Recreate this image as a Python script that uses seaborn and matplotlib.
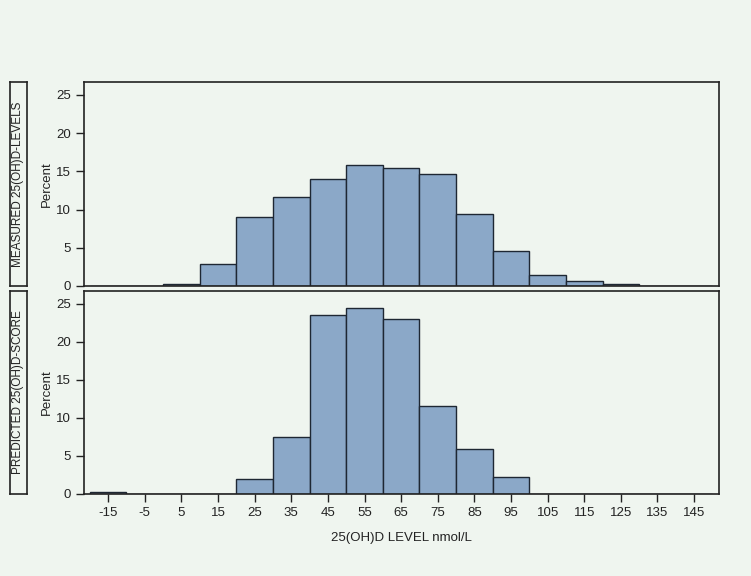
import pandas as pd
import matplotlib
matplotlib.use("Agg")
import matplotlib.pyplot as plt
import seaborn as sns

# Percent per 10 nmol/L bin (bin left edges)
measured_left = [0, 10, 20, 30, 40, 50, 60, 70, 80, 90, 100, 110, 120]
measured_pct = [0.26, 2.9, 9.0, 11.6, 14.0, 15.9, 15.4, 14.7, 9.4, 4.6, 1.4, 0.7, 0.25]

predicted_left = [-20, 20, 30, 40, 50, 60, 70, 80, 90]
predicted_pct = [0.3, 2.0, 7.5, 23.6, 24.4, 23.0, 11.6, 5.9, 2.2]

panel_labels = ["MEASURED 25(OH)D-LEVELS", "PREDICTED 25(OH)D-SCORE"]
x_ticks = [-15, -5, 5, 15, 25, 35, 45, 55, 65, 75, 85, 95, 105, 115, 125, 135, 145]
y_ticks = [0, 5, 10, 15, 20, 25]

bg = "#EFF5EF"
bar_color = "#8BA8C8"
edge_color = "#1E2733"

sns.set_style("ticks")
plt.rcParams["font.family"] = ["Liberation Sans", "DejaVu Sans"]
plt.rcParams["axes.unicode_minus"] = False

fig = plt.figure(figsize=(7.51, 5.76), dpi=100, facecolor=bg)

left, width = 84 / 751, 635 / 751
panels = [(1 - 286 / 576, 204 / 576), (1 - 494 / 576, 203 / 576)]
datasets = [(measured_left, measured_pct), (predicted_left, predicted_pct)]

axes = []
for (bottom, height), (lefts, pct), label in zip(panels, datasets, panel_labels):
    ax = fig.add_axes([left, bottom, width, height], facecolor=bg)
    df = pd.DataFrame({"level": [v + 5 for v in lefts], "pct": pct})
    sns.histplot(data=df, x="level", weights="pct", binwidth=10, binrange=(-20, 150),
                 ax=ax, color=bar_color, edgecolor=edge_color, linewidth=1.0, alpha=1.0)
    ax.set_xlim(-21.6, 151.8)
    ax.set_ylim(0, 26.7)
    ax.set_yticks(y_ticks)
    ax.set_ylabel("Percent", fontsize=9.5, color="#222222", labelpad=2)
    ax.tick_params(axis="both", length=6, width=1, labelsize=9.5,
                   colors="#222222", direction="out")
    for sp in ax.spines.values():
        sp.set_visible(True)
        sp.set_color("#222222")
        sp.set_linewidth(1.2)
    # label strip
    sax = fig.add_axes([10 / 751, bottom, 17 / 751, height], facecolor=bg)
    sax.set_xticks([])
    sax.set_yticks([])
    for sp in sax.spines.values():
        sp.set_color("#222222")
        sp.set_linewidth(1.2)
    sax.text(0.5, 0.5, label, rotation=90, ha="center", va="center",
             fontsize=8.5, color="#222222", transform=sax.transAxes)
    axes.append(ax)

axes[0].set_xticks([])
axes[0].set_xlabel("")
axes[1].set_xticks(x_ticks)
axes[1].set_xlabel("25(OH)D LEVEL nmol/L", fontsize=9.5, color="#222222", labelpad=9)

fig.savefig("out.png", dpi=100, facecolor=bg)
